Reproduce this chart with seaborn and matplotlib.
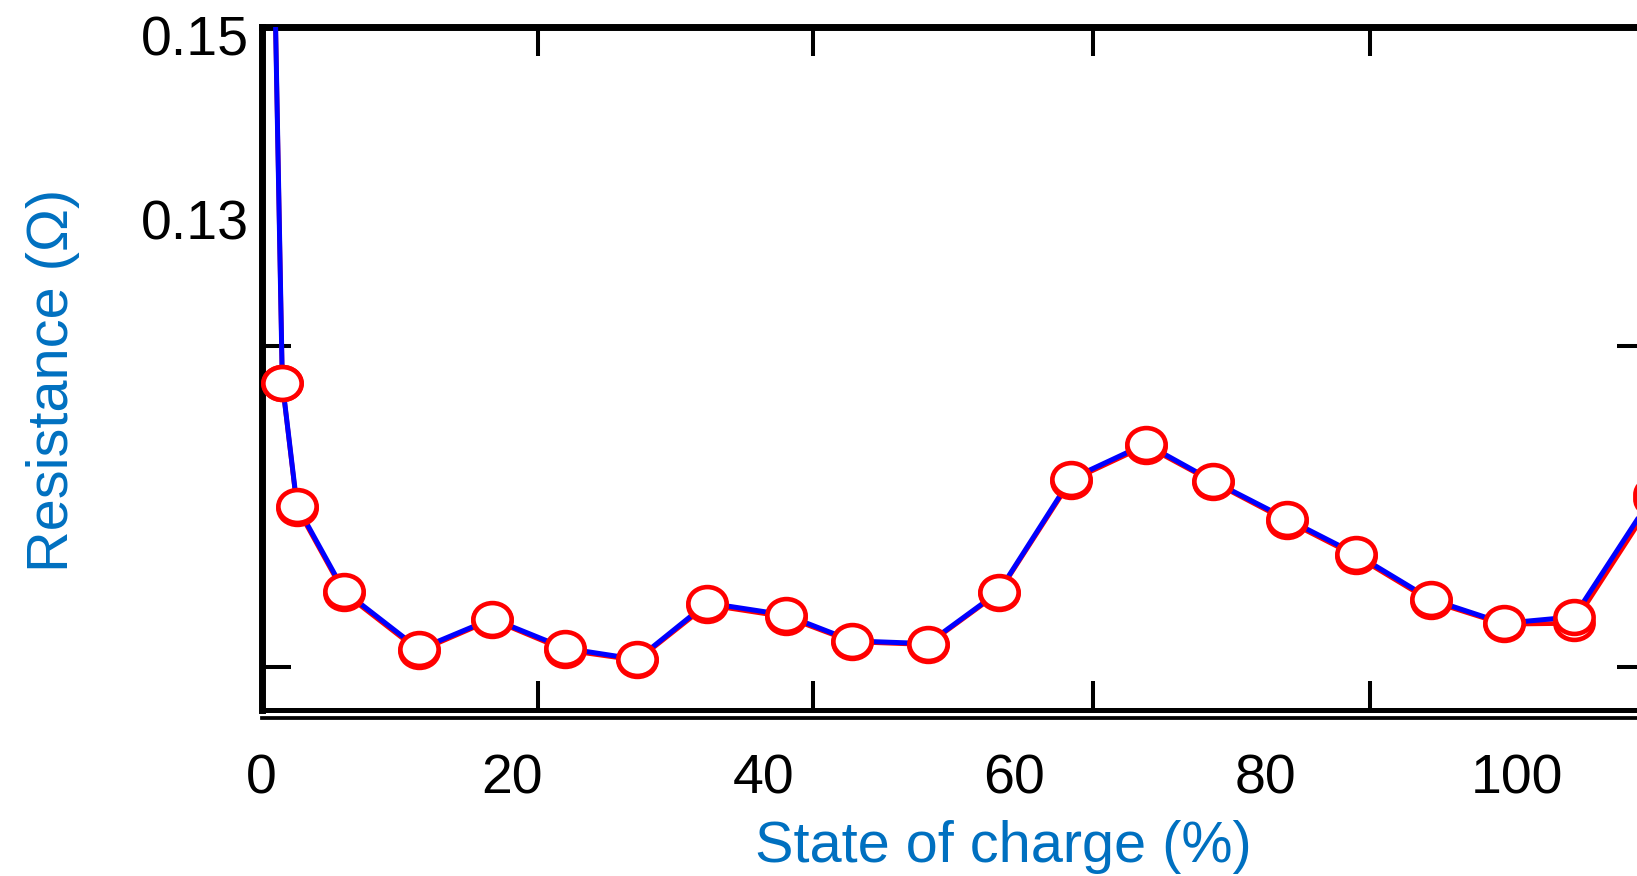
import numpy as np
import pandas as pd
import matplotlib
matplotlib.use("Agg")
import matplotlib.pyplot as plt
from matplotlib.path import Path
import seaborn as sns

# ---- data ----
soc = [0.3, 1.66, 2.83, 6.57, 12.56, 18.38, 24.21, 29.94, 35.52, 41.77, 47.08,
       53.08, 58.73, 64.47, 70.46, 75.79, 81.69, 87.18, 93.17, 98.99, 104.57, 110.96]
res_blue = [0.2100, 0.1124, 0.0991, 0.0899, 0.0836, 0.0869, 0.0837, 0.0825, 0.0886,
            0.0873, 0.0845, 0.0842, 0.0898, 0.1020, 0.1058, 0.1018, 0.0977, 0.0939,
            0.0890, 0.0864, 0.0871, 0.1004]
res_red = [0.2100, 0.1124, 0.0989, 0.0897, 0.0834, 0.0868, 0.0835, 0.0824, 0.0884,
           0.0871, 0.0844, 0.0841, 0.0897, 0.1018, 0.1056, 0.1017, 0.0975, 0.0937,
           0.0888, 0.0863, 0.0864, 0.0998]
x_ticks = [0, 20, 40, 60, 80, 100]
x_ticklabels = ["0", "20", "40", "60", "80", "100"]
y_ticks = [0.13, 0.15]
y_ticklabels = ["0.13", "0.15"]
x_marks = [22.01, 43.97, 66.25, 88.30]
y_marks = [0.08168, 0.11638]
xlabel = "State of charge (%)"
ylabel = "Resistance (\u03a9)"

df_blue = pd.DataFrame({"soc": soc, "res": res_blue})
df_red = pd.DataFrame({"soc": soc, "res": res_red})

sns.set_theme(style="white")
plt.rcParams["font.family"] = ["Liberation Sans", "DejaVu Sans"]

W, H = 1637, 876
fig = plt.figure(figsize=(W / 100, H / 100), dpi=100)
ax = fig.add_axes([261.5 / W, (H - 709.5) / H, (1646 - 261.5) / W, (709.5 - 26.5) / H])

circ = Path.unit_circle()
ell = Path(circ.vertices * np.array([1.0, 0.86]), circ.codes)

sns.lineplot(data=df_red, x="soc", y="res", ax=ax, color="#ff0000", linewidth=3.4,
             zorder=2, sort=False)
sns.lineplot(data=df_blue, x="soc", y="res", ax=ax, color="#0000ff", linewidth=3.6,
             zorder=3, sort=False)
for d in (df_red, df_blue):
    sns.lineplot(data=d, x="soc", y="res", ax=ax, linestyle="", marker=ell,
                 markersize=27.5, markerfacecolor="white", markeredgecolor="#ff0000",
                 markeredgewidth=3.3, zorder=4, sort=False, clip_on=False)

ax.set_xlim(0, (1646 - 261.5) / 12.55)
ax.set_ylim(0.15 - (709.5 - 35) / 9250, 0.15 + (35 - 26.5) / 9250)

ax.set_xticks(x_ticks)
ax.set_xticklabels(x_ticklabels)
ax.set_yticks(y_ticks)
ax.set_yticklabels(y_ticklabels)
ax.set_xticks(x_marks, minor=True)
ax.set_yticks(y_marks, minor=True)
ax.tick_params(which="major", length=0, labelsize=40, colors="black")
ax.tick_params(axis="x", which="major", pad=32)
ax.tick_params(axis="y", which="major", pad=9)
ax.tick_params(which="minor", direction="in", length=21, width=2.9, color="black",
               top=True, bottom=True, left=True, right=True)

for side in ["left", "top", "right"]:
    ax.spines[side].set_linewidth(5)
    ax.spines[side].set_color("black")
ax.spines["bottom"].set_linewidth(3.6)
ax.spines["bottom"].set_color("black")

sec = ax.secondary_xaxis(-8 / 683)
sec.set_xticks([])
sec.tick_params(length=0, labelbottom=False)
sec.spines["bottom"].set_linewidth(2.7)
sec.spines["bottom"].set_color("black")

ax.set_xlabel(xlabel, fontsize=41.5, color="#0070c0")
ax.set_ylabel(ylabel, fontsize=41.5, color="#0070c0")
ax.xaxis.set_label_coords((1003 - 261.5) / 1384.5, (709.5 - 820) / 683)
ax.yaxis.set_label_coords((80 - 261.5) / 1384.5, (709.5 - 380) / 683)

fig.savefig("out.png", dpi=100)
